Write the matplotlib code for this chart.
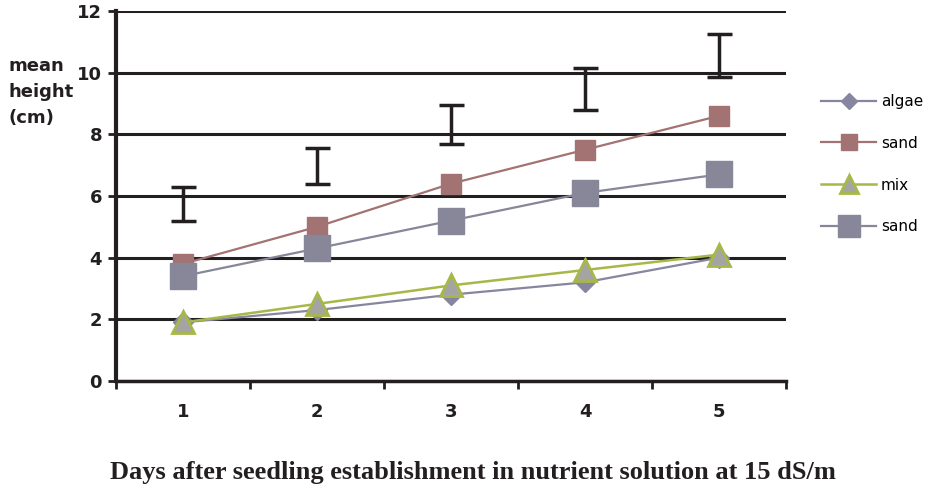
import matplotlib
matplotlib.use("Agg")
import matplotlib.pyplot as plt
import numpy as np

# data
days = ["1", "2", "3", "4", "5"]
algo = [1.9, 2.3, 2.8, 3.2, 4.0]
sand = [3.8, 5.0, 6.4, 7.5, 8.6]
mix = [1.9, 2.5, 3.1, 3.6, 4.1]
sand2 = [3.4, 4.3, 5.2, 6.1, 6.7]
err_low = [5.2, 6.4, 7.7, 8.8, 9.85]
err_high = [6.3, 7.55, 8.95, 10.15, 11.25]
labels = ["algae", "sand", "mix", "sand"]

W, H = 934, 490
fig = plt.figure(figsize=(W / 100, H / 100), dpi=100)
ax = fig.add_axes([116 / W, 1 - 381 / H, (786 - 116) / W, (381 - 11) / H])

x = np.arange(len(days))

ax.plot(x, algo, color="#8686a0", lw=1.6, marker="D", ms=10, mfc="#8686a0", mec="#8686a0", label=labels[0], zorder=3)
ax.plot(x, sand, color="#a37272", lw=1.6, marker="s", ms=15, mfc="#a37272", mec="#a37272", label=labels[1], zorder=3)
ax.plot(x, mix, color="#a8b848", lw=1.8, marker="^", ms=16, mfc="#a4a4a4", mec="#a8b848", mew=2, label=labels[2], zorder=4)
ax.plot(x, sand2, color="#878799", lw=1.6, marker="s", ms=19, mfc="#878799", mec="#878799", label=labels[3], zorder=5)

mid = (np.array(err_low) + np.array(err_high)) / 2
half = (np.array(err_high) - np.array(err_low)) / 2
ax.errorbar(x, mid, yerr=half, fmt="none", ecolor="#231f20", elinewidth=2.5, capsize=9, capthick=2.5, zorder=6)

ax.set_xlim(-0.5, len(days) - 0.5)
ax.set_ylim(0, 12)
ax.set_yticks(range(0, 13, 2))
ax.set_xticks(x)
ax.set_xticklabels(days)
ax.set_xticks(np.arange(-0.5, len(days), 1), minor=True)
ax.tick_params(axis="x", which="major", length=0, pad=16, labelsize=13)
ax.tick_params(axis="x", which="minor", length=6, width=2, color="#231f20")
ax.tick_params(axis="y", length=6, width=2, color="#231f20", labelsize=13, pad=4)
for t in ax.get_xticklabels() + ax.get_yticklabels():
    t.set_fontweight("bold")
    t.set_color("#231f20")

ax.grid(axis="y", color="#231f20", lw=2.2, zorder=0)
ax.set_axisbelow(True)
for s in ["top", "right"]:
    ax.spines[s].set_visible(False)
ax.spines["left"].set_linewidth(3)
ax.spines["bottom"].set_linewidth(2.5)
ax.spines["left"].set_color("#231f20")
ax.spines["bottom"].set_color("#231f20")

fig.text(8 / W, 1 - 92 / H, "mean\nheight\n(cm)", fontsize=13, fontweight="bold",
         color="#231f20", va="center", ha="left", linespacing=1.6)

fig.text(110 / W, 1 - 472 / H, "Days after seedling establishment in nutrient solution at 15 dS/m",
         fontsize=19, fontweight="bold", family="Liberation Serif", color="#231f20",
         va="center", ha="left")

fig.legend(loc="upper left", bbox_to_anchor=(815 / W, 1 - 88 / H), frameon=False,
           fontsize=11, markerscale=0.8, handlelength=3.6, labelspacing=1.75,
           handletextpad=0.3, borderaxespad=0)

fig.savefig("out.png", dpi=100)
